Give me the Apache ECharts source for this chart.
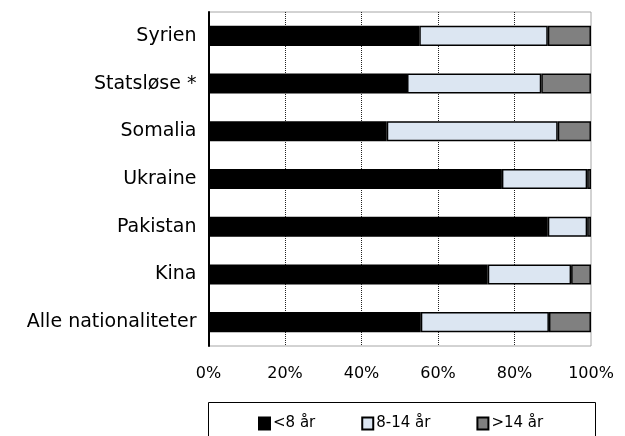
<!DOCTYPE html>
<html>
<head>
<meta charset="utf-8">
<script src="https://cdn.jsdelivr.net/npm/echarts@6/dist/echarts.min.js"></script>
<style>
html,body{margin:0;padding:0;background:#fff;}
#chart{width:625px;height:436px;}
</style>
</head>
<body>
<div id="chart"></div>
<script>
var categories = ["Syrien", "Statsløse *", "Somalia", "Ukraine", "Pakistan", "Kina", "Alle nationaliteter"];
var seriesNames = ["<8 år", "8-14 år", ">14 år"];
var under8 = [55.1, 51.9, 46.6, 76.7, 88.7, 73.0, 55.5];
var from8to14 = [33.6, 35.1, 44.7, 22.3, 10.3, 21.8, 33.5];
var over14 = [11.3, 13.0, 8.7, 1.0, 1.0, 5.2, 11.0];
var xTicks = [0, 20, 40, 60, 80, 100];

var colors = ["#000000", "#dce6f2", "#808080"];
var values = [under8, from8to14, over14];

var chart = echarts.init(document.getElementById('chart'), null, {renderer: 'canvas'});
var font = "DejaVu Sans";
var option = {
  animation: false,
  textStyle: {fontFamily: font},
  grid: {left: 208.5, right: 34, top: 12, bottom: 90, show: true, borderColor: '#a6a6a6', borderWidth: 1},
  xAxis: {
    type: 'value', min: xTicks[0], max: xTicks[xTicks.length - 1], interval: 20,
    axisLine: {show: false}, axisTick: {show: false},
    axisLabel: {formatter: '{value}%', color: '#000', fontSize: 16, fontFamily: font, margin: 20},
    splitLine: {show: true, showMinLine: false, showMaxLine: false, lineStyle: {color: '#222', width: 1, type: [1, 1]}}
  },
  yAxis: {
    type: 'category', data: categories, inverse: true,
    axisLine: {show: true, lineStyle: {color: '#000', width: 2}},
    axisTick: {show: false},
    axisLabel: {color: '#000', fontSize: 19, fontFamily: font, margin: 12}
  },
  legend: {
    data: seriesNames, icon: 'rect', left: 253, top: 411, itemWidth: 11, itemHeight: 12, itemGap: 46,
    textStyle: {fontSize: 15, fontFamily: font, color: '#000', padding: [0, 0, 0, -2]}
  },
  graphic: [{type: 'rect', shape: {x: 208.5, y: 402.5, width: 387, height: 40}, style: {fill: 'none', stroke: '#000', lineWidth: 1}, silent: true}],
  series: seriesNames.map(function (n, i) {
    return {
      name: n, type: 'bar', stack: 'total', barWidth: '42%',
      data: values[i],
      itemStyle: {color: colors[i], borderColor: '#000', borderWidth: 1.5}
    };
  })
};
chart.setOption(option);
</script>
</body>
</html>
